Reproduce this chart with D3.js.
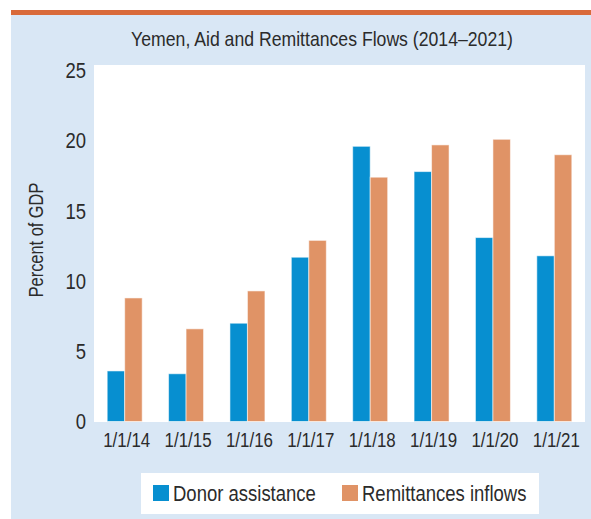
<!DOCTYPE html>
<html>
<head>
<meta charset="utf-8">
<script src="https://cdn.jsdelivr.net/npm/d3@7"></script>
<style>
  body { margin: 0; background: #fff; }
  text { font-family: "Liberation Sans", Arial, sans-serif; fill: #2b2b2b; }
</style>
</head>
<body>
<svg id="chart"></svg>
<script>
// chart data
const years = ["1/1/14", "1/1/15", "1/1/16", "1/1/17", "1/1/18", "1/1/19", "1/1/20", "1/1/21"];
const donorAssistance = [3.6, 3.4, 7.0, 11.7, 19.6, 17.8, 13.1, 11.8];
const remittancesInflows = [8.8, 6.6, 9.3, 12.9, 17.4, 19.7, 20.1, 19.0];
const seriesNames = ["Donor assistance", "Remittances inflows"];
const seriesColors = ["#078fd0", "#e09366"];
const yTicks = [0, 5, 10, 15, 20, 25];

const width = 591;
const height = 519;

// squeeze text horizontally to mimic the condensed face of the original
function condense(sel, factor) {
  sel.each(function () {
    const w = this.getComputedTextLength();
    d3.select(this)
      .attr("textLength", w * factor)
      .attr("lengthAdjust", "spacingAndGlyphs");
  });
}

const svg = d3.select("#chart")
  .attr("width", width)
  .attr("height", height);

// panel background + top rule
svg.append("rect")
  .attr("x", 11).attr("y", 15)
  .attr("width", width - 11).attr("height", height - 15)
  .attr("fill", "#d9e7f5");
svg.append("rect")
  .attr("x", 11).attr("y", 10)
  .attr("width", width - 11).attr("height", 5)
  .attr("fill", "#d96a3a");

svg.append("text")
  .attr("x", 322).attr("y", 39)
  .attr("dy", "0.35em")
  .attr("text-anchor", "middle")
  .style("font-size", "21px")
  .text("Yemen, Aid and Remittances Flows (2014\u20132021)")
  .call(condense, 0.84);

const plot = { left: 94, right: 585, top: 65, bottom: 422 };

svg.append("rect")
  .attr("x", plot.left).attr("y", plot.top)
  .attr("width", plot.right - plot.left)
  .attr("height", plot.bottom - plot.top)
  .attr("fill", "#fff");

const x = d3.scaleBand()
  .domain(years)
  .range([plot.left, plot.right])
  .paddingInner(0.43)
  .paddingOuter(0.215);

const xInner = d3.scaleBand()
  .domain(seriesNames)
  .range([0, x.bandwidth()]);

const y = d3.scaleLinear()
  .domain([0, 25])
  .range([421.5, 70.5]);

const rows = years.map((yr, i) => ({
  year: yr,
  values: [donorAssistance[i], remittancesInflows[i]]
}));

const groups = svg.append("g")
  .selectAll("g")
  .data(rows)
  .join("g")
  .attr("transform", d => `translate(${x(d.year)},0)`);

groups.selectAll("rect")
  .data(d => d.values.map((v, k) => ({ key: seriesNames[k], value: v, k })))
  .join("rect")
  .attr("x", d => xInner(d.key))
  .attr("y", d => y(d.value))
  .attr("width", xInner.bandwidth())
  .attr("height", d => y(0) - y(d.value))
  .attr("fill", d => seriesColors[d.k])
  .attr("stroke", "#fff")
  .attr("stroke-opacity", 0.55)
  .attr("stroke-width", 1);

// y axis (labels only)
svg.append("g")
  .selectAll("text")
  .data(yTicks)
  .join("text")
  .attr("x", 86)
  .attr("y", d => y(d))
  .attr("dy", "0.35em")
  .attr("text-anchor", "end")
  .style("font-size", "22px")
  .text(d => d)
  .call(condense, 0.84);

// x axis labels
svg.append("g")
  .selectAll("text")
  .data(years)
  .join("text")
  .attr("x", d => x(d) + x.bandwidth() / 2 + 2)
  .attr("y", 440)
  .attr("dy", "0.35em")
  .attr("text-anchor", "middle")
  .style("font-size", "20px")
  .text(d => d)
  .call(condense, 0.845);

svg.append("text")
  .attr("transform", "translate(36,240) rotate(-90)")
  .attr("dy", "0.35em")
  .attr("text-anchor", "middle")
  .style("font-size", "19.5px")
  .text("Percent of GDP")
  .call(condense, 0.84);

// legend
const legend = svg.append("g");
legend.append("rect")
  .attr("x", 141).attr("y", 473)
  .attr("width", 398).attr("height", 41)
  .attr("fill", "#fff");

const legendX = [153, 342];
const items = legend.selectAll("g")
  .data(seriesNames)
  .join("g")
  .attr("transform", (d, i) => `translate(${legendX[i]},485)`);
items.append("rect")
  .attr("width", 16).attr("height", 16)
  .attr("fill", (d, i) => seriesColors[i]);
items.append("text")
  .attr("x", 20).attr("y", 8)
  .attr("dy", "0.35em")
  .style("font-size", "21.5px")
  .text(d => d)
  .call(condense, 0.86);
</script>
</body>
</html>
